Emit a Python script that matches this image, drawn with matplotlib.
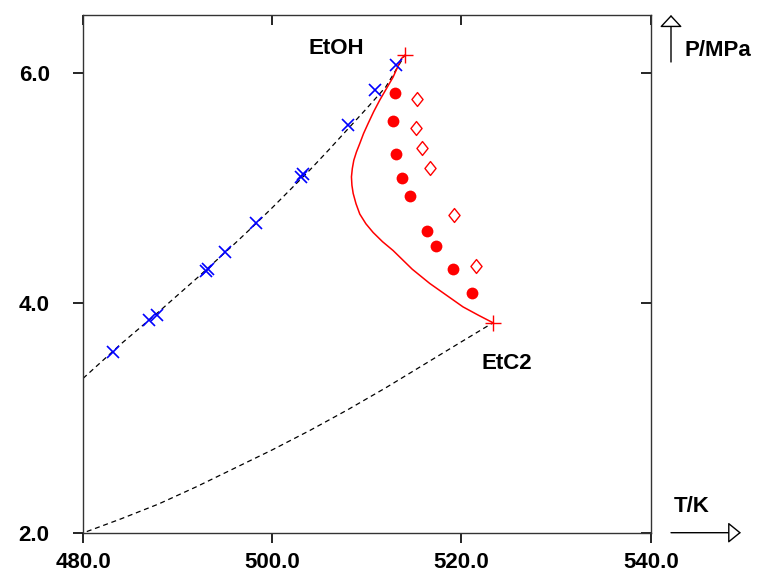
import matplotlib
matplotlib.use('Agg')
import matplotlib.pyplot as plt
from matplotlib.path import Path

plt.rcParams['font.family'] = ['Liberation Sans', 'DejaVu Sans']
plt.rcParams['font.weight'] = 'bold'

# EtOH vapour pressure data (blue crosses)
etoh_T = [483.13, 486.97, 487.78, 493.0, 493.2, 495.03, 498.27, 503.0, 503.2, 508.0, 510.9, 513.13]
etoh_P = [3.573, 3.848, 3.891, 4.272, 4.290, 4.441, 4.693, 5.095, 5.115, 5.542, 5.852, 6.063]

# EtOH vapour pressure curve (dashed)
etoh_curve_T = [480.0, 482.0, 484.0, 486.0, 488.0, 490.0, 492.0, 494.0, 496.0, 498.0,
                500.0, 502.0, 504.0, 506.0, 508.0, 510.0, 512.0, 514.0]
etoh_curve_P = [3.341, 3.49, 3.64, 3.78, 3.92, 4.065, 4.21, 4.36, 4.51, 4.665,
                4.825, 4.99, 5.155, 5.33, 5.51, 5.69, 5.875, 6.15]

# EtC2 vapour pressure curve (dashed)
etc2_curve_T = [480.4, 484.0, 488.0, 492.0, 496.0, 500.0, 504.0, 508.0, 512.0,
                516.0, 520.0, 523.33]
etc2_curve_P = [2.01, 2.12, 2.25, 2.40, 2.56, 2.72, 2.89, 3.07, 3.26,
                3.46, 3.66, 3.825]

# critical points
crit_T = [514.0, 523.33]
crit_P = [6.15, 3.825]

# critical line (red)
cl_T = [514.0, 513.64, 512.77, 511.36, 510.72, 510.13, 509.65, 509.25, 508.9, 508.62,
        508.46, 508.37, 508.42, 508.55, 508.85, 509.25, 509.9, 510.66, 511.65,
        512.77, 514.8, 516.64, 518.4, 520.16, 521.8, 523.33]
cl_P = [6.15, 6.12, 5.96, 5.76, 5.66, 5.557, 5.47, 5.383, 5.31, 5.238,
        5.165, 5.093, 5.02, 4.95, 4.86, 4.77, 4.685, 4.61, 4.53,
        4.453, 4.29, 4.167, 4.065, 3.963, 3.89, 3.825]

# measured critical points (filled circles)
exp1_T = [512.95, 512.77, 513.12, 513.72, 514.53, 516.36, 517.35, 519.1, 521.1]
exp1_P = [5.823, 5.577, 5.29, 5.084, 4.925, 4.621, 4.491, 4.288, 4.085]

# other data set (open diamonds)
exp2_T = [515.34, 515.23, 515.83, 516.71, 519.18, 521.57]
exp2_P = [5.774, 5.519, 5.348, 5.166, 4.766, 4.317]

fig = plt.figure(figsize=(7.58, 5.73), dpi=100)
ax = fig.add_axes([0.1095, 0.0703, 0.749, 0.9035])

dash = (0, (4, 3))
ax.plot(etoh_curve_T, etoh_curve_P, color='black', lw=0.9, linestyle=dash)
ax.plot(etc2_curve_T, etc2_curve_P, color='black', lw=0.9, linestyle=dash)
ax.plot(cl_T, cl_P, color='red', lw=1.1)

ax.plot(etoh_T, etoh_P, 'x', color='blue', ms=8, mew=1.2, linestyle='none')
ax.plot(exp1_T, exp1_P, 'o', color='red', ms=8.5, mew=0, linestyle='none')
diamond = Path([(0, 1), (0.8, 0), (0, -1), (-0.8, 0), (0, 1)],
               [Path.MOVETO, Path.LINETO, Path.LINETO, Path.LINETO, Path.CLOSEPOLY])
ax.plot(exp2_T, exp2_P, marker=diamond, color='red', mfc='white', ms=10, mew=1.0,
        linestyle='none')
ax.plot(crit_T, crit_P, '+', color='red', ms=12, mew=1.0, linestyle='none')

ax.text(506.8, 6.21, 'EtOH', fontsize=16, fontweight='bold', ha='center', va='center')
ax.text(524.8, 3.47, 'EtC2', fontsize=16, fontweight='bold', ha='center', va='center')

ax.set_xlim(480, 540)
ax.set_ylim(2.0, 6.5)
ax.set_xticks([480, 500, 520, 540])
ax.set_yticks([2.0, 4.0, 6.0])
ax.set_xticklabels(['480.0', '500.0', '520.0', '540.0'])
ax.set_yticklabels(['2.0', '4.0', '6.0'])

for s in ax.spines.values():
    s.set_color('#333333')
    s.set_linewidth(1.0)

ax.tick_params(axis='both', which='major', length=7, width=1.2, color='black',
               labelsize=16, direction='out', top=True, right=True)
ax.tick_params(axis='x', pad=7)
ax.tick_params(axis='y', pad=17)
for lab in ax.get_xticklabels() + ax.get_yticklabels():
    lab.set_fontweight('bold')

# inward ticks on top and right
for tick in ax.xaxis.get_major_ticks():
    tick.tick2line.set_marker(3)
    tick.tick2line.set_markersize(7)
for tick in ax.yaxis.get_major_ticks():
    tick.tick2line.set_marker(0)
    tick.tick2line.set_markersize(7)

# axis arrows and labels outside the frame
ax.annotate('', xy=(671, 558), xycoords='figure pixels',
            xytext=(671, 511), textcoords='figure pixels',
            arrowprops=dict(arrowstyle='-|>,head_length=7.5,head_width=7',
                            mutation_scale=1, fc='white', ec='black', lw=1.0,
                            shrinkA=0, shrinkB=0))
ax.annotate('', xy=(741, 40.3), xycoords='figure pixels',
            xytext=(671, 40.3), textcoords='figure pixels',
            arrowprops=dict(arrowstyle='-|>,head_length=8,head_width=6.5',
                            mutation_scale=1, fc='white', ec='black', lw=1.0,
                            shrinkA=0, shrinkB=0))
fig.text(718 / 758, 522 / 573, 'P/MPa', fontsize=16, fontweight='bold',
         ha='center', va='center')
fig.text(692 / 758, 66 / 573, 'T/K', fontsize=16, fontweight='bold',
         ha='center', va='center')

fig.savefig('out.png', dpi=100)
